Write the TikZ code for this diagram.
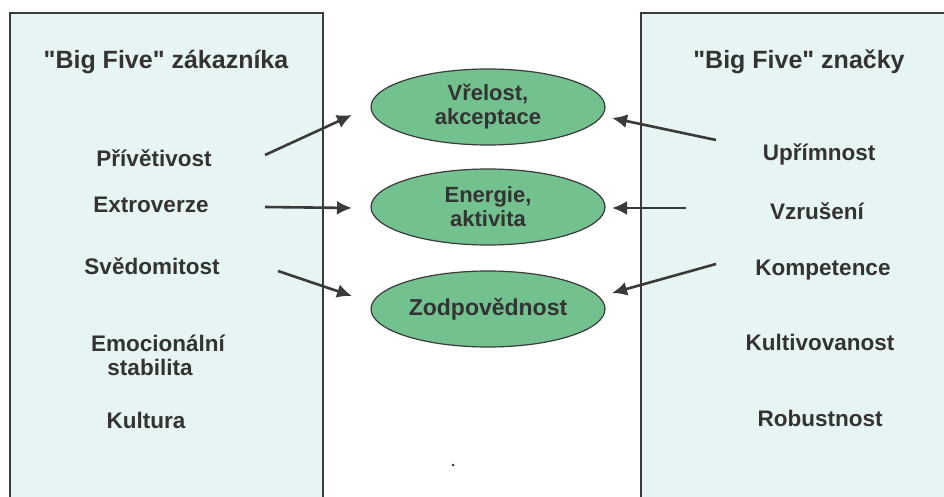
\documentclass[tikz,border=0pt]{standalone}
\usepackage{fontspec}
\setmainfont{Liberation Sans}
\usetikzlibrary{arrows.meta,shapes.geometric}
\definecolor{boxfill}{HTML}{E6F5F3}
\definecolor{ellfill}{HTML}{74C190}
\definecolor{txt}{HTML}{333333}
\definecolor{edge}{HTML}{3A3A3A}
\begin{document}
\begin{tikzpicture}[x=1pt,y=-1pt,
  panelfill/.style={fill=boxfill},
  panelline/.style={draw=edge,line width=1.2pt},
  title/.style={font=\bfseries\fontsize{25}{27}\selectfont,text=txt,anchor=center},
  item/.style={font=\bfseries\fontsize{22.5}{25}\selectfont,text=txt,align=center,anchor=center},
  oval/.style={ellipse,draw=edge,line width=1.2pt,fill=ellfill,minimum width=234pt,minimum height=76pt,inner sep=0pt,
    font=\bfseries\fontsize{22}{24}\selectfont,text=txt,align=center},
  conn/.style={draw=edge,line width=2.6pt,-{Latex[length=15pt,width=14pt]}}
]
\useasboundingbox (0,0) rectangle (944,497);
\fill[white] (0,0) rectangle (944,497);
% panels
\fill[panelfill] (10,13) rectangle (323,500);
\fill[panelfill] (641,13) rectangle (948,500);
\draw[panelline] (10,500) -- (10,13) -- (323,13) -- (323,500);
\draw[panelline] (641,500) -- (641,13) -- (948,13);
% left texts
\node[title] (tl) at (166,62) {\textquotedbl Big Five\textquotedbl{} zákazníka};
\node[item] (l1) at (154,158) {Přívětivost};
\node[item] (l2) at (151,205) {Extroverze};
\node[item] (l3) at (152,266) {Svědomitost};
\node[item] (l4) at (158,343) {Emocionální};
\node[item] (l4b) at (150,367) {stabilita};
\node[item] (l5) at (146,420) {Kultura};
% right texts
\node[title] (tr) at (799,62) {\textquotedbl Big Five\textquotedbl{} značky};
\node[item] (r1) at (819,154) {Upřímnost};
\node[item] (r2) at (817,211) {Vzrušení};
\node[item] (r3) at (823,270) {Kompetence};
\node[item] (r4) at (820,342) {Kultivovanost};
\node[item] (r5) at (820,418) {Robustnost};
% ovals
\node[oval] (e1) at (488,107) {Vřelost,\\akceptace};
\node[oval] (e2) at (488,207) {Energie,\\aktivita};
\node[oval] (e3) at (488,309) {\fontsize{23}{25}\selectfont Zodpovědnost};
% connector endpoints
\coordinate (a1s) at (265,155); \coordinate (a1e) at (352,115);
\coordinate (a2s) at (265,207); \coordinate (a2e) at (352,208);
\coordinate (a3s) at (278,271); \coordinate (a3e) at (352,296);
\coordinate (b1s) at (716,140); \coordinate (b1e) at (612,118);
\coordinate (b2s) at (686,208); \coordinate (b2e) at (612,208);
\coordinate (b3s) at (716,264); \coordinate (b3e) at (612,293);
\draw[conn] (a1s) -- (a1e);
\draw[conn] (a2s) -- (a2e);
\draw[conn] (a3s) -- (a3e);
\draw[conn] (b1s) -- (b1e);
\draw[conn] (b2s) -- (b2e);
\draw[conn] (b3s) -- (b3e);
\fill[edge] (453,465) circle (1.5pt);
\end{tikzpicture}
\end{document}
